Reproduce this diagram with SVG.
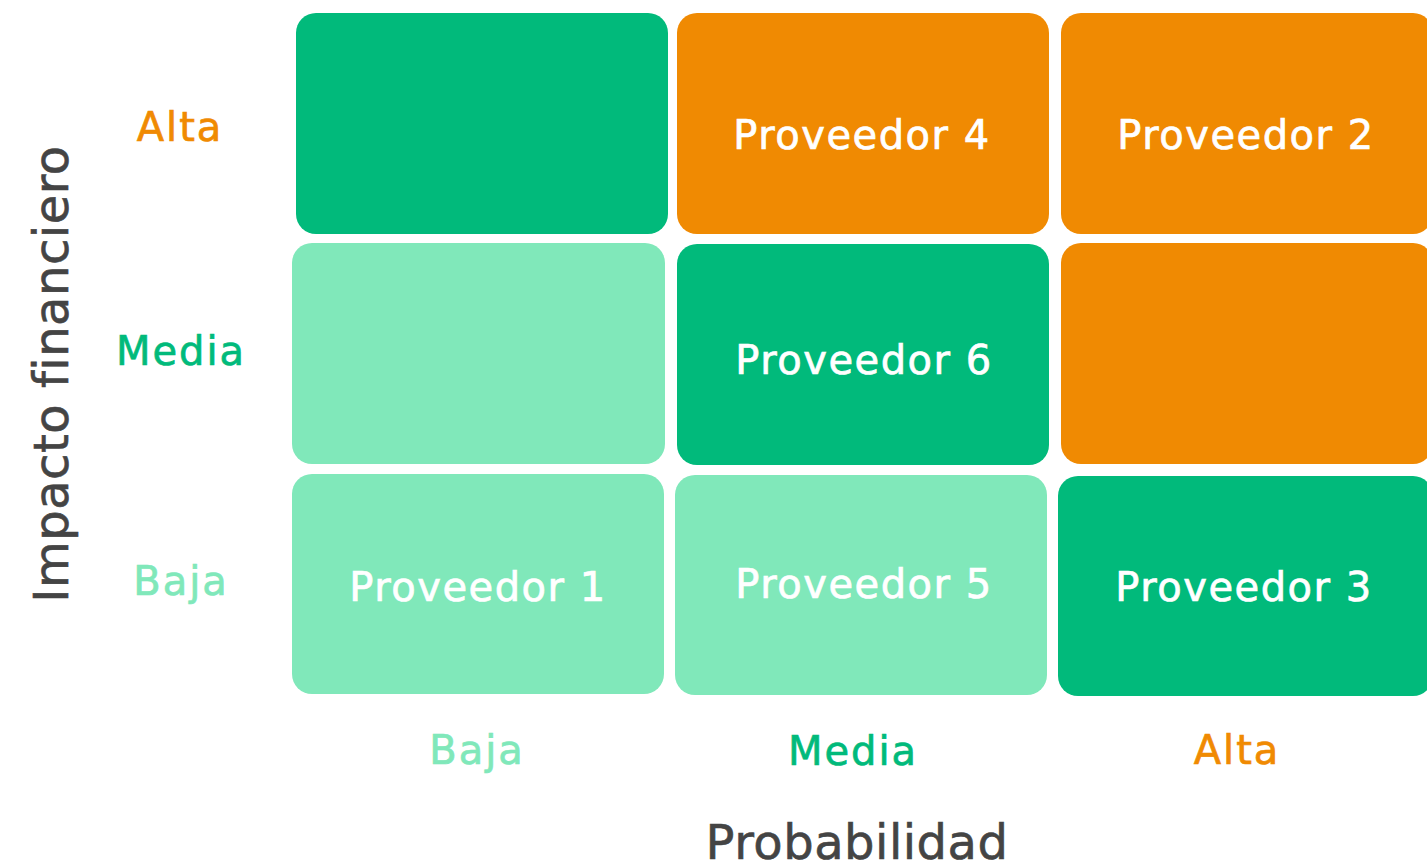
<svg xmlns="http://www.w3.org/2000/svg" width="1427" height="864" viewBox="0 0 1427 864">
<style>
.dk{fill:#01BA7B}
.lt{fill:#80E8BA}
.or{fill:#F08A02}
.cell{font-family:"DejaVu Sans",sans-serif;font-size:40px;fill:#ffffff;stroke:#ffffff;stroke-width:0.7px;text-anchor:middle;letter-spacing:1.5px}
.lab{font-family:"DejaVu Sans",sans-serif;font-size:40px;text-anchor:middle;letter-spacing:2px;stroke-width:0.7px}
.axis{font-family:"DejaVu Sans",sans-serif;font-size:48px;fill:#444444;stroke:#444444;stroke-width:0.6px;text-anchor:middle;letter-spacing:0.5px}
.tdk{fill:#01BA7B;stroke:#01BA7B}
.tlt{fill:#80E8BA;stroke:#80E8BA}
.tor{fill:#F08A02;stroke:#F08A02}
</style>
<rect width="1427" height="864" fill="#ffffff"/>
<g id="cell-alta-baja"><rect class="dk" x="296" y="13" width="372" height="221" rx="20"/></g>
<g id="cell-alta-media"><rect class="or" x="677" y="13" width="372" height="221" rx="20"/><text class="cell" x="862" y="149">Proveedor 4</text></g>
<g id="cell-alta-alta"><rect class="or" x="1061" y="13" width="372" height="221" rx="20"/><text class="cell" x="1246" y="149">Proveedor 2</text></g>
<g id="cell-media-baja"><rect class="lt" x="292" y="243" width="373" height="221" rx="20"/></g>
<g id="cell-media-media"><rect class="dk" x="677" y="244" width="372" height="221" rx="20"/><text class="cell" x="864" y="374">Proveedor 6</text></g>
<g id="cell-media-alta"><rect class="or" x="1061" y="243" width="372" height="221" rx="20"/></g>
<g id="cell-baja-baja"><rect class="lt" x="292" y="474" width="372" height="220" rx="20"/><text class="cell" x="478" y="601">Proveedor 1</text></g>
<g id="cell-baja-media"><rect class="lt" x="675" y="475" width="372" height="220" rx="20"/><text class="cell" x="864" y="598">Proveedor 5</text></g>
<g id="cell-baja-alta"><rect class="dk" x="1058" y="476" width="375" height="220" rx="20"/><text class="cell" x="1244" y="601">Proveedor 3</text></g>
<g id="y-labels">
<text class="lab tor" x="180" y="141">Alta</text>
<text class="lab tdk" x="181" y="365">Media</text>
<text class="lab tlt" x="181" y="595">Baja</text>
</g>
<g id="x-labels">
<text class="lab tlt" x="477" y="764">Baja</text>
<text class="lab tdk" x="853" y="765">Media</text>
<text class="lab tor" x="1237" y="764">Alta</text>
</g>
<g id="axis-titles">
<text class="axis" transform="translate(68,374) rotate(-90)">Impacto financiero</text>
<text class="axis" x="857" y="859">Probabilidad</text>
</g>
<g id="connectors"></g>
</svg>
